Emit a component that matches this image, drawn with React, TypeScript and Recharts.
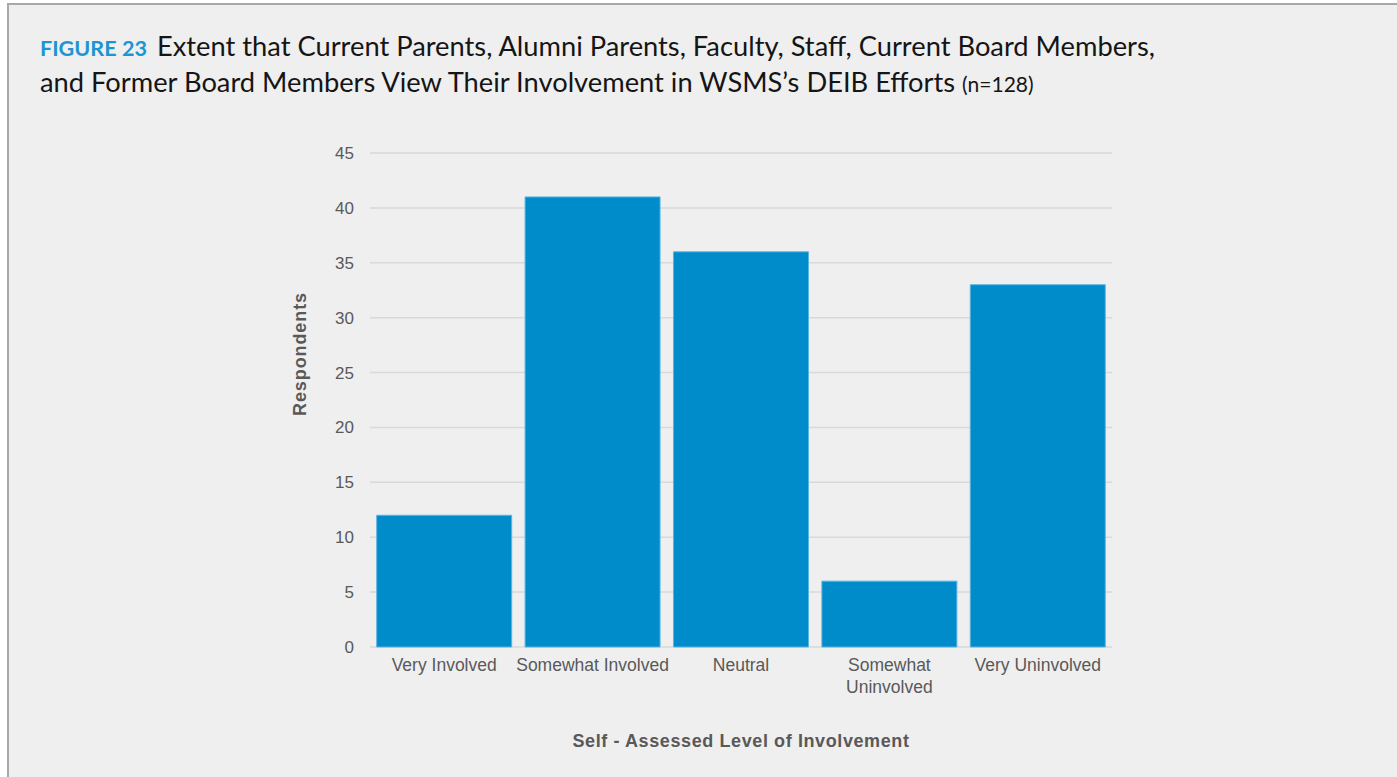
import { BarChart, Bar, XAxis, YAxis, CartesianGrid } from "recharts"

const categories = ["Very Involved", "Somewhat Involved", "Neutral", "Somewhat Uninvolved", "Very Uninvolved"]
const tickLines = [["Very Involved"], ["Somewhat Involved"], ["Neutral"], ["Somewhat", "Uninvolved"], ["Very Uninvolved"]]
const respondents = [12, 41, 36, 6, 33]
const yTicks = [0, 5, 10, 15, 20, 25, 30, 35, 40, 45]

const data = categories.map((name, i) => ({ name, value: respondents[i] }))

const axisFont = "'Liberation Sans', Arial, sans-serif"

const CategoryTick = ({ x, y, index }: { x?: number; y?: number; index?: number }) => {
  const lines = tickLines[index ?? 0] ?? []
  return (
    <text x={x} y={y} textAnchor="middle" fill="#595959" fontSize={17.5} fontFamily={axisFont}>
      {lines.map((line, i) => (
        <tspan key={i} x={x} dy={22}>
          {line}
        </tspan>
      ))}
    </text>
  )
}

export default function App() {
  return (
    <div style={{ position: "absolute", left: 0, top: 0, width: 1397, height: 777, overflow: "hidden", background: "#fff" }}>
      <div
        style={{
          position: "absolute",
          left: 7,
          top: 3,
          width: 1400,
          height: 780,
          background: "#efefef",
          borderLeft: "2px solid #a8a8a8",
          borderTop: "2px solid #a8a8a8",
        }}
      />
      <div
        style={{
          position: "absolute",
          left: 40,
          top: 29,
          fontFamily: "Lato, sans-serif",
          fontSize: 27.3,
          lineHeight: "33px",
          color: "#151515",
          whiteSpace: "nowrap",
        }}
      >
        <div>
          <span style={{ color: "#1b95d3", fontWeight: 700, fontSize: 21.6, marginRight: 10 }}>FIGURE 23</span>
          Extent that Current Parents, Alumni Parents, Faculty, Staff, Current Board Members,
        </div>
        <div>
          and Former Board Members View Their Involvement in WSMS’s DEIB Efforts{" "}
          <span style={{ fontSize: 21 }}>(n=128)</span>
        </div>
      </div>

      <div style={{ position: "absolute", left: 0, top: 0 }}>
        <BarChart
          width={1397}
          height={777}
          data={data}
          margin={{ top: 153, right: 285, bottom: 70, left: 290 }}
          barCategoryGap="4.5%"
        >
          <CartesianGrid vertical={false} stroke="#d9d9d9" strokeWidth={1.5} />
          <XAxis
            dataKey="name"
            axisLine={false}
            tickLine={false}
            tickSize={0}
            height={60}
            interval={0}
            tick={<CategoryTick />}
          />
          <YAxis
            domain={[0, 45]}
            ticks={yTicks}
            width={80}
            axisLine={false}
            tickLine={false}
            tickMargin={10}
            tick={{ fill: "#595959", fontSize: 17, fontFamily: axisFont }}
          />
          <Bar dataKey="value" fill="#008bca" stroke="#5cb5e2" strokeWidth={1} isAnimationActive={false} />
        </BarChart>
      </div>

      <div
        style={{
          position: "absolute",
          left: 300,
          top: 354,
          transform: "translate(-50%, -50%) rotate(-90deg)",
          fontFamily: axisFont,
          fontWeight: 700,
          fontSize: 18,
          letterSpacing: 0.9,
          color: "#595959",
          whiteSpace: "nowrap",
        }}
      >
        Respondents
      </div>
      <div
        style={{
          position: "absolute",
          left: 741,
          top: 741,
          transform: "translate(-50%, -50%)",
          fontFamily: axisFont,
          fontWeight: 700,
          fontSize: 18,
          letterSpacing: 0.6,
          color: "#595959",
          whiteSpace: "nowrap",
        }}
      >
        Self - Assessed Level of Involvement
      </div>
    </div>
  )
}
